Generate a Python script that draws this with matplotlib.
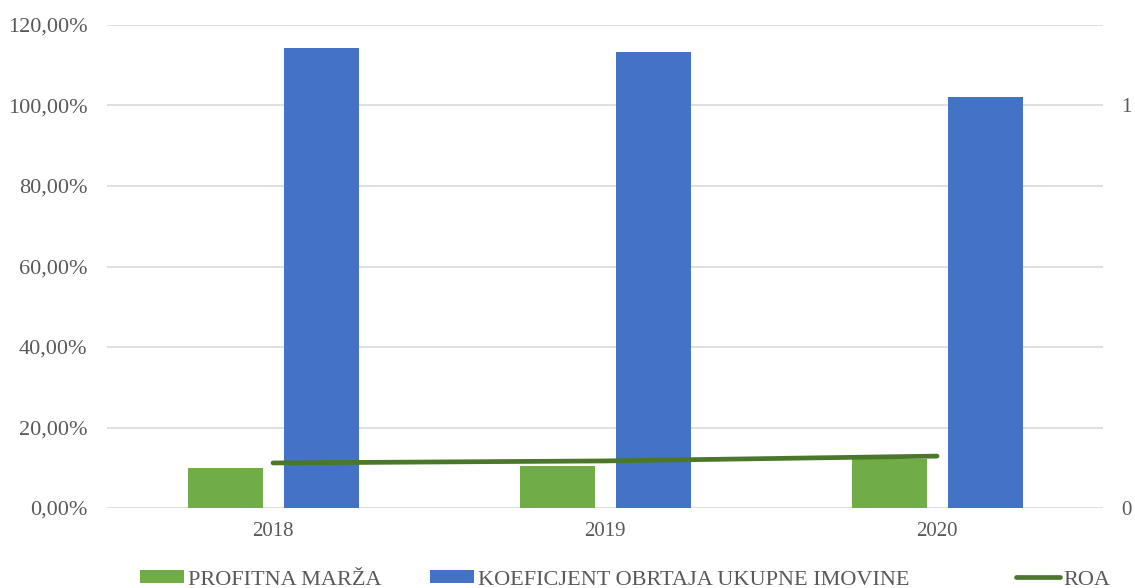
import numpy as np
import matplotlib.pyplot as plt
from matplotlib.ticker import FuncFormatter

plt.rcParams['font.family'] = ['Liberation Serif', 'DejaVu Serif']

years = ['2018', '2019', '2020']
profitna_marza = [0.099, 0.104, 0.122]
koeficjent_obrtaja = [1.143, 1.133, 1.021]
roa = [0.112, 0.117, 0.129]

GREEN = '#70ad47'
BLUE = '#4472c4'
DARK_GREEN = '#4a7729'
GRID = '#d9d9d9'
TXT = '#595959'

fig = plt.figure(figsize=(11.35, 5.88), dpi=100)
ax = fig.add_axes([0.0943, 0.136, 0.8775, 0.8215])

x = np.arange(len(years))
w = 0.226
b1 = ax.bar(x - 0.143, profitna_marza, w, color=GREEN, zorder=2, label='PROFITNA MARŽA')
b2 = ax.bar(x + 0.145, koeficjent_obrtaja, w, color=BLUE, zorder=2,
            label='KOEFICJENT OBRTAJA UKUPNE IMOVINE')

ax.set_xlim(-0.5, 2.5)
ax.set_ylim(0, 1.2)
ax.set_yticks(np.arange(0, 1.21, 0.2))
ax.yaxis.set_major_formatter(FuncFormatter(lambda v, p: f'{v*100:.2f}%'.replace('.', ',')))
ax.set_xticks(x)
ax.set_xticklabels(years)
ax.grid(axis='y', color=GRID, linewidth=1.2, zorder=0)
for s in ax.spines.values():
    s.set_visible(False)
ax.tick_params(axis='both', length=0, labelsize=15, colors=TXT)
ax.tick_params(axis='y', pad=14, labelsize=16)
ax.tick_params(axis='x', pad=10)

ax2 = ax.twinx()
ax2.set_ylim(0, 1.2)
ax2.set_yticks([0, 1])
ax2.set_yticklabels(['0', '1'])
ln, = ax2.plot(x, roa, color=DARK_GREEN, linewidth=3.4, solid_capstyle='round', zorder=3,
               label='ROA')
for s in ax2.spines.values():
    s.set_visible(False)
ax2.tick_params(axis='y', length=0, labelsize=15, colors=TXT, pad=13)

# legend entries placed one by one, like the spacing in the original
for h, xpos in [(b1, 0.1233), (b2, 0.3789), (ln, 0.8952)]:
    fig.legend(handles=[h], loc='center left', bbox_to_anchor=(xpos, 0.014),
               frameon=False, fontsize=16, handlelength=2.0, handleheight=0.55,
               handletextpad=0.15, borderpad=0, borderaxespad=0, labelcolor=TXT)

fig.savefig('out.png', dpi=100)
